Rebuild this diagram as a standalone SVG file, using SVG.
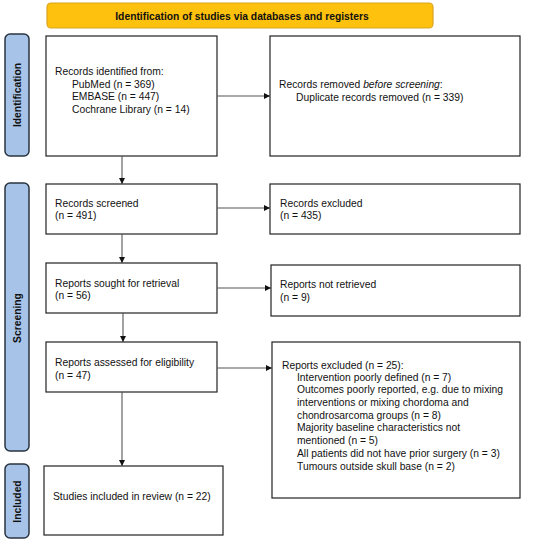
<svg xmlns="http://www.w3.org/2000/svg" width="550" height="542" viewBox="0 0 550 542">
<defs>
<style>
.box{fill:#fff;stroke:#222;stroke-width:1.2}
.side{fill:#a7c4e8;stroke:#2a3440;stroke-width:1.5}
.banner{fill:#fec10e;stroke:#d9a521;stroke-width:1.2}
.t{font-family:"Liberation Sans",Arial,sans-serif;font-size:10.3px;fill:#111}
.b{font-family:"Liberation Sans",Arial,sans-serif;font-size:10.3px;font-weight:bold;fill:#111}
.c{stroke:#555;stroke-width:1.1;fill:none;marker-end:url(#ah)}
</style>
<marker id="ah" viewBox="0 0 10 10" refX="10" refY="5" markerWidth="6" markerHeight="6" markerUnits="userSpaceOnUse" orient="auto">
<path d="M0,0 L10,5 L0,10 z" fill="#111"/>
</marker>
</defs>
<rect width="550" height="542" fill="#fff"/>

<g id="banner">
<rect class="banner" x="47" y="3" width="386" height="25" rx="4"/>
<text class="b" x="242" y="19.5" text-anchor="middle">Identification of studies via databases and registers</text>
</g>

<g id="side-identification">
<rect class="side" x="5" y="34" width="24" height="122" rx="5"/>
<text class="b" transform="translate(20.5,95) rotate(-90)" text-anchor="middle">Identification</text>
</g>
<g id="side-screening">
<rect class="side" x="5" y="183" width="24" height="268" rx="5"/>
<text class="b" transform="translate(20.5,318) rotate(-90)" text-anchor="middle">Screening</text>
</g>
<g id="side-included">
<rect class="side" x="5" y="464" width="24" height="74" rx="5"/>
<text class="b" transform="translate(20.5,501.5) rotate(-90)" text-anchor="middle">Included</text>
</g>

<g id="records-identified">
<rect class="box" x="46" y="36" width="171" height="120"/>
<text class="t" x="55" y="75">Records identified from:</text>
<text class="t" x="72" y="87.7">PubMed (n = 369)</text>
<text class="t" x="72" y="100.4">EMBASE (n = 447)</text>
<text class="t" x="72" y="113.1">Cochrane Library (n = 14)</text>
</g>

<g id="records-removed">
<rect class="box" x="270" y="36" width="250" height="120"/>
<text class="t" x="279" y="88">Records removed <tspan font-style="italic">before screening</tspan>:</text>
<text class="t" x="296" y="100.7">Duplicate records removed (n = 339)</text>
</g>

<g id="records-screened">
<rect class="box" x="46" y="184" width="171" height="50"/>
<text class="t" x="55" y="207">Records screened</text>
<text class="t" x="55" y="219">(n = 491)</text>
</g>

<g id="records-excluded">
<rect class="box" x="270" y="184" width="250" height="50"/>
<text class="t" x="280" y="207">Records excluded</text>
<text class="t" x="280" y="219">(n = 435)</text>
</g>

<g id="reports-sought">
<rect class="box" x="46" y="263" width="171" height="50"/>
<text class="t" x="55" y="286.5">Reports sought for retrieval</text>
<text class="t" x="55" y="299">(n = 56)</text>
</g>

<g id="reports-not-retrieved">
<rect class="box" x="271" y="265" width="249" height="51"/>
<text class="t" x="280" y="288">Reports not retrieved</text>
<text class="t" x="280" y="300.5">(n = 9)</text>
</g>

<g id="reports-assessed">
<rect class="box" x="46" y="342" width="171" height="50"/>
<text class="t" x="55" y="365.5">Reports assessed for eligibility</text>
<text class="t" x="55" y="378.5">(n = 47)</text>
</g>

<g id="reports-excluded">
<rect class="box" x="272" y="342" width="248" height="156"/>
<text class="t" x="282" y="368.5">Reports excluded (n = 25):</text>
<text class="t" x="297" y="380.5">Intervention poorly defined (n = 7)</text>
<text class="t" x="297" y="393.3">Outcomes poorly reported, e.g. due to mixing</text>
<text class="t" x="297" y="406">interventions or mixing chordoma and</text>
<text class="t" x="297" y="418.7">chondrosarcoma groups (n = 8)</text>
<text class="t" x="297" y="431.4">Majority baseline characteristics not</text>
<text class="t" x="297" y="444.1">mentioned (n = 5)</text>
<text class="t" x="297" y="456.8">All patients did not have prior surgery (n = 3)</text>
<text class="t" x="297" y="469.5">Tumours outside skull base (n = 2)</text>
</g>

<g id="studies-included">
<rect class="box" x="44" y="466" width="179" height="69"/>
<text class="t" x="53" y="500">Studies included in review (n = 22)</text>
</g>

<g id="connectors">
<line class="c" x1="217" y1="96" x2="270" y2="96"/>
<line class="c" x1="122" y1="156" x2="122" y2="184"/>
<line class="c" x1="217" y1="208" x2="270" y2="208"/>
<line class="c" x1="122" y1="234" x2="122" y2="263"/>
<line class="c" x1="217" y1="288" x2="271" y2="288"/>
<line class="c" x1="123" y1="313" x2="123" y2="342"/>
<line class="c" x1="217" y1="368" x2="272" y2="368"/>
<line class="c" x1="122" y1="392" x2="122" y2="466"/>
</g>
</svg>
